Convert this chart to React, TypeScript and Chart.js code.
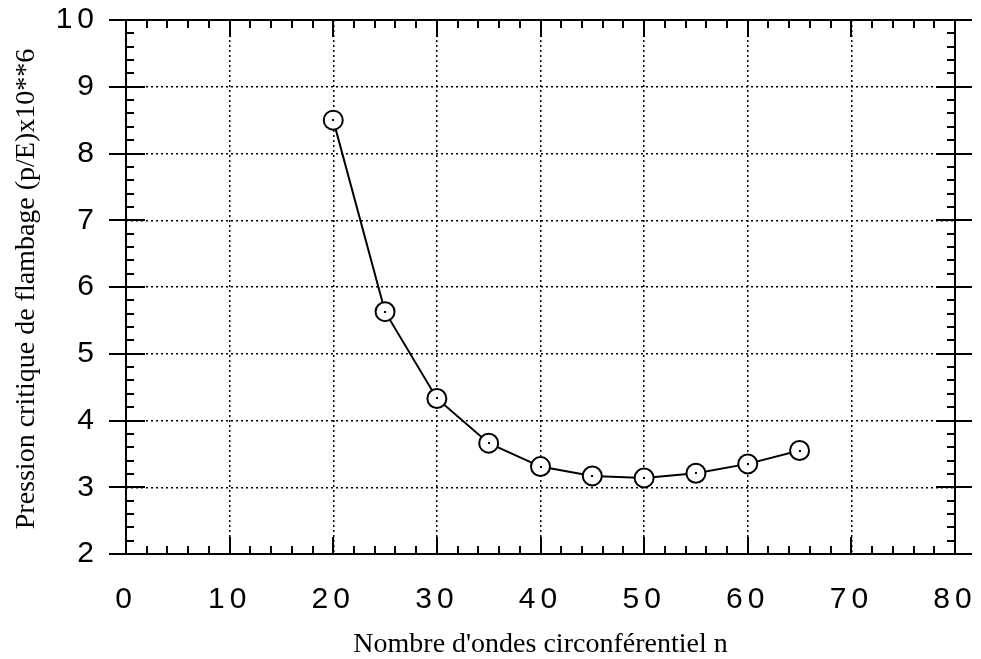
import React, { useEffect, useRef } from "react";
import { Chart, registerables } from "chart.js";

Chart.register(...registerables);

// ---- data ----
const modes = [20, 25, 30, 35, 40, 45, 50, 55, 60, 65];
const pressure = [8.5, 5.63, 4.33, 3.66, 3.31, 3.17, 3.14, 3.21, 3.35, 3.55];
const xTickValues = [0, 10, 20, 30, 40, 50, 60, 70, 80];
const yTickValues = [2, 3, 4, 5, 6, 7, 8, 9, 10];
const xMinorStep = 2;
const yMinorStep = 0.2;
const xTitle = "Nombre d'ondes circonférentiel n";
const yTitle = "Pression critique de flambage (p/E)x10**6";

const SANS = '"Liberation Sans", Arial, Helvetica, sans-serif';
const SERIF = '"Liberation Serif", "Times New Roman", Times, serif';

const letterSpacingPlugin = {
  id: "letterSpacing",
  beforeDraw(chart: any) {
    (chart.ctx as any).letterSpacing = "5px";
  },
};

const frameTicksPlugin = {
  id: "frameTicks",
  beforeDatasetsDraw(chart: any) {
    const { ctx, chartArea, scales } = chart;
    const { left, right, top, bottom } = chartArea;
    const x = scales.x;
    const y = scales.y;
    ctx.save();
    (ctx as any).letterSpacing = "0px";
    ctx.strokeStyle = "#000";
    ctx.lineWidth = 2;
    ctx.setLineDash([]);
    ctx.strokeRect(left, top, right - left, bottom - top);
    ctx.beginPath();
    const xMin = xTickValues[0];
    const xMax = xTickValues[xTickValues.length - 1];
    const nX = Math.round((xMax - xMin) / xMinorStep);
    for (let i = 0; i <= nX; i++) {
      const v = xMin + i * xMinorStep;
      const px = Math.round(x.getPixelForValue(v));
      const major = xTickValues.includes(v);
      const len = major ? 17 : 8;
      ctx.moveTo(px, bottom);
      ctx.lineTo(px, bottom - len);
      ctx.moveTo(px, top);
      ctx.lineTo(px, top + len);
    }
    const yMin = yTickValues[0];
    const yMax = yTickValues[yTickValues.length - 1];
    const nY = Math.round((yMax - yMin) / yMinorStep);
    for (let i = 0; i <= nY; i++) {
      const v = yMin + i * yMinorStep;
      const py = Math.round(y.getPixelForValue(v));
      const major = i % Math.round(1 / yMinorStep) === 0;
      if (major) {
        ctx.moveTo(left - 17, py);
        ctx.lineTo(left + 19, py);
        ctx.moveTo(right - 19, py);
        ctx.lineTo(right + 17, py);
      } else {
        ctx.moveTo(left, py);
        ctx.lineTo(left + 8, py);
        ctx.moveTo(right, py);
        ctx.lineTo(right - 8, py);
      }
    }
    ctx.stroke();
    ctx.restore();
  },
  afterDatasetsDraw(chart: any) {
    const { ctx } = chart;
    const meta = chart.getDatasetMeta(0);
    ctx.save();
    ctx.fillStyle = "#000";
    meta.data.forEach((pt: any) => {
      ctx.fillRect(Math.round(pt.x) - 1, Math.round(pt.y) - 1, 2, 2);
    });
    ctx.restore();
  },
  afterDraw(chart: any) {
    const { ctx, chartArea } = chart;
    ctx.save();
    (ctx as any).letterSpacing = "0px";
    ctx.fillStyle = "#000";
    ctx.font = `28px ${SERIF}`;
    ctx.textAlign = "center";
    ctx.textBaseline = "alphabetic";
    ctx.fillText(xTitle, (chartArea.left + chartArea.right) / 2, 652);
    ctx.translate(34, (chartArea.top + chartArea.bottom) / 2 + 2);
    ctx.rotate(-Math.PI / 2);
    ctx.fillText(yTitle, 0, 0);
    ctx.restore();
  },
};

export default function App() {
  const ref = useRef<HTMLCanvasElement | null>(null);

  useEffect(() => {
    document.body.style.margin = "0";
    const canvas = ref.current;
    if (!canvas) return;
    const chart = new Chart(canvas, {
      type: "line",
      data: {
        datasets: [
          {
            label: "Pression critique",
            data: modes.map((m, i) => ({ x: m, y: pressure[i] })),
            borderColor: "#000",
            borderWidth: 2,
            tension: 0,
            pointRadius: 9.5,
            pointBorderWidth: 2,
            pointBackgroundColor: "#fff",
            pointBorderColor: "#000",
          },
        ],
      },
      options: {
        animation: false,
        responsive: false,
        devicePixelRatio: 1,
        layout: { padding: { top: 20, right: 26, left: 0, bottom: 0 } },
        plugins: {
          legend: { display: false },
          tooltip: { enabled: false },
        },
        scales: {
          x: {
            type: "linear",
            min: xTickValues[0],
            max: xTickValues[xTickValues.length - 1],
            afterBuildTicks: (s: any) => {
              s.ticks = xTickValues.map((v) => ({ value: v }));
            },
            afterFit: (s: any) => {
              s.height = 105;
              s.paddingLeft = 0;
              s.paddingRight = 0;
            },
            ticks: {
              autoSkip: false,
              maxRotation: 0,
              color: "#000",
              padding: 28,
              font: { family: SANS, size: 30 },
            },
            grid: { color: "#000", lineWidth: 1.5, drawTicks: false },
            border: { display: false, dash: [2, 3] },
          },
          y: {
            type: "linear",
            min: yTickValues[0],
            max: yTickValues[yTickValues.length - 1],
            afterBuildTicks: (s: any) => {
              s.ticks = yTickValues.map((v) => ({ value: v }));
            },
            afterFit: (s: any) => {
              s.width = 126;
              s.paddingTop = 0;
              s.paddingBottom = 0;
            },
            ticks: {
              color: "#000",
              padding: 27,
              font: { family: SANS, size: 30 },
            },
            grid: { color: "#000", lineWidth: 1.5, drawTicks: false },
            border: { display: false, dash: [2, 3] },
          },
        },
      },
      plugins: [letterSpacingPlugin, frameTicksPlugin],
    } as any);
    return () => chart.destroy();
  }, []);

  return (
    <div style={{ width: 981, height: 659, background: "#fff" }}>
      <canvas ref={ref} width={981} height={659} />
    </div>
  );
}
